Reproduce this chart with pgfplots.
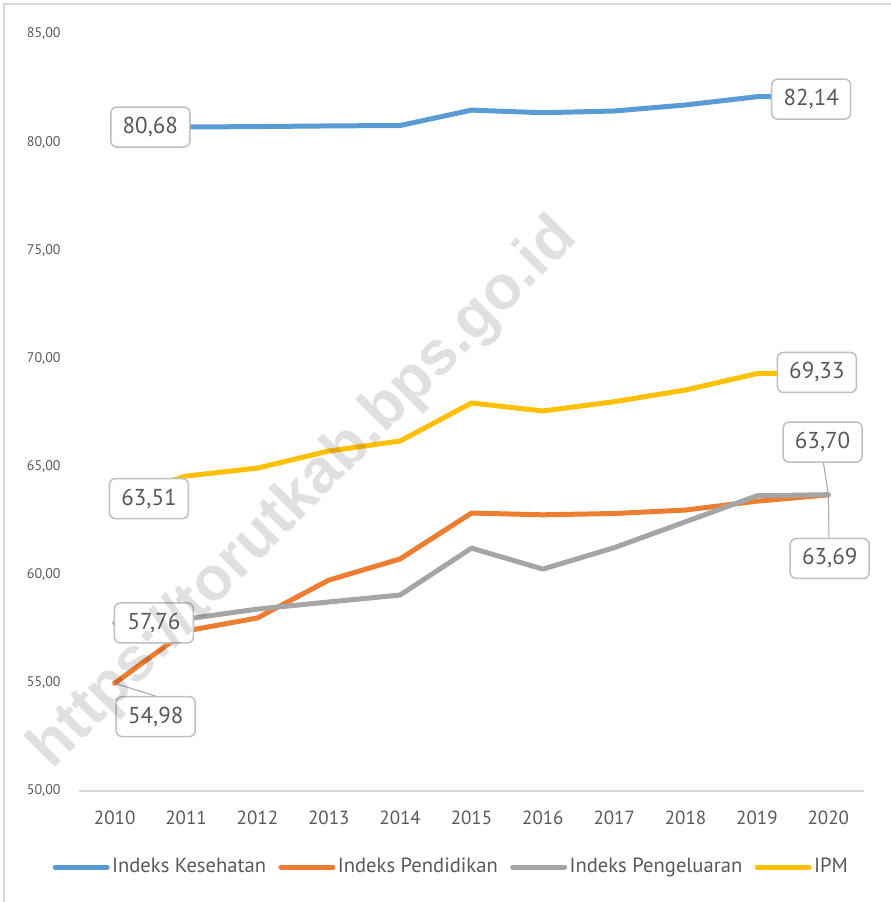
\documentclass[border=0pt]{standalone}
\usepackage{fontspec}
\setmainfont{PT Sans}
\newfontfamily\wmfont{Liberation Sans}
\usepackage{pgfplots}
\pgfplotsset{compat=1.18}
\definecolor{cBlue}{HTML}{5B9BD5}
\definecolor{cOrange}{HTML}{ED7D31}
\definecolor{cGray}{HTML}{A5A5A5}
\definecolor{cYellow}{HTML}{FFC000}
\definecolor{txt}{HTML}{595959}
\definecolor{boxGray}{HTML}{BFBFBF}
\definecolor{lineGray}{HTML}{D9D9D9}
\tikzset{
  lbl/.style={draw=boxGray, line width=0.75pt, rounded corners=3pt, fill=white,
    minimum width=39.5pt, minimum height=20pt, inner sep=0pt,
    font=\fontsize{11.5}{13}\selectfont, text=txt},
  leader/.style={draw=cGray, line width=0.5pt}
}
\begin{document}
\begin{tikzpicture}
\begin{axis}[name=ax, scale only axis, width=392.5pt, height=378.5pt,
  xmin=2009.5, xmax=2020.5, ymin=50, ymax=85, clip=false,
  axis x line=bottom, axis y line=left,
  x axis line style={-, draw=lineGray, line width=0.75pt},
  y axis line style={draw=none},
  major tick length=0pt,
  xtick={2010,2011,2012,2013,2014,2015,2016,2017,2018,2019,2020},
  xticklabels={2010,2011,2012,2013,2014,2015,2016,2017,2018,2019,2020},
  ytick={50,55,60,65,70,75,80,85},
  yticklabels={{50,00},{55,00},{60,00},{65,00},{70,00},{75,00},{80,00},{85,00}},
  x tick label style={font=\fontsize{9.5}{11}\selectfont, text=txt, anchor=center, inner sep=0pt, yshift=-13.5pt},
  y tick label style={font=\fontsize{7}{8}\selectfont, text=txt, anchor=east, inner sep=0pt, xshift=-9pt},
  legend style={at={(0.4745,-0.1004)}, anchor=center, draw=none, fill=none,
    legend columns=4, font=\fontsize{10.3}{12}\selectfont, text=txt,
    /tikz/every even column/.append style={column sep=5pt},
    inner sep=0pt, nodes={inner sep=1.2pt}},
  legend cell align=left,
  legend image code/.code={\draw (0pt,0pt) -- (26pt,0pt);},
  every axis plot/.append style={line width=2.5pt, line join=round, line cap=round},
]
\addplot[cBlue] coordinates {
 (2010,80.68) (2011,80.70) (2012,80.72) (2013,80.75) (2014,80.77)
 (2015,81.48) (2016,81.36) (2017,81.44) (2018,81.72) (2019,82.10) (2020,82.14)};
\addlegendentry{Indeks Kesehatan}
\addplot[cOrange] coordinates {
 (2010,54.98) (2011,57.40) (2012,58.00) (2013,59.75) (2014,60.73)
 (2015,62.85) (2016,62.77) (2017,62.83) (2018,62.99) (2019,63.40) (2020,63.69)};
\addlegendentry{Indeks Pendidikan}
\addplot[cGray] coordinates {
 (2010,57.76) (2011,57.95) (2012,58.41) (2013,58.74) (2014,59.06)
 (2015,61.23) (2016,60.26) (2017,61.25) (2018,62.45) (2019,63.65) (2020,63.70)};
\addlegendentry{Indeks Pengeluaran}
\addplot[cYellow] coordinates {
 (2010,63.51) (2011,64.56) (2012,64.93) (2013,65.72) (2014,66.18)
 (2015,67.94) (2016,67.57) (2017,68.00) (2018,68.54) (2019,69.30) (2020,69.33)};
\addlegendentry{IPM}
% leader lines
\draw[leader] (axis cs:2010,54.98) -- (axis cs:2010.575,54.39);
\draw[leader] (axis cs:2020,63.70) -- (axis cs:2019.93,65.21);
\draw[leader] (axis cs:2020,63.69) -- (axis cs:2020.01,61.74);
% data labels
\node[lbl] at (axis cs:2010.50,80.70) {80,68};
\node[lbl] at (axis cs:2019.76,81.99) {82,14};
\node[lbl] at (axis cs:2019.84,69.35) {69,33};
\node[lbl] at (axis cs:2010.48,63.52) {63,51};
\node[lbl] at (axis cs:2019.92,66.13) {63,70};
\node[lbl] at (axis cs:2020.02,60.75) {63,69};
\node[lbl] at (axis cs:2010.55,57.77) {57,76};
\node[lbl] at (axis cs:2010.575,53.44) {54,98};
% watermark
\node[rotate=45.3, text=black, text opacity=0.12, inner sep=0pt,
  font=\wmfont\bfseries\fontsize{31}{31}\selectfont] at (axis cs:2012.66,63.75) {https://torutkab.bps.go.id};
\end{axis}
\begin{scope}[shift={(ax.south west)}]
\draw[lineGray, line width=0.9pt] (-37.5pt,-70pt) -- (-37.5pt,393.5pt) -- (420pt,393.5pt);
\pgfresetboundingbox
\path (-39.5pt,-55.5pt) rectangle (406pt,395.5pt);
\end{scope}
\end{tikzpicture}
\end{document}
